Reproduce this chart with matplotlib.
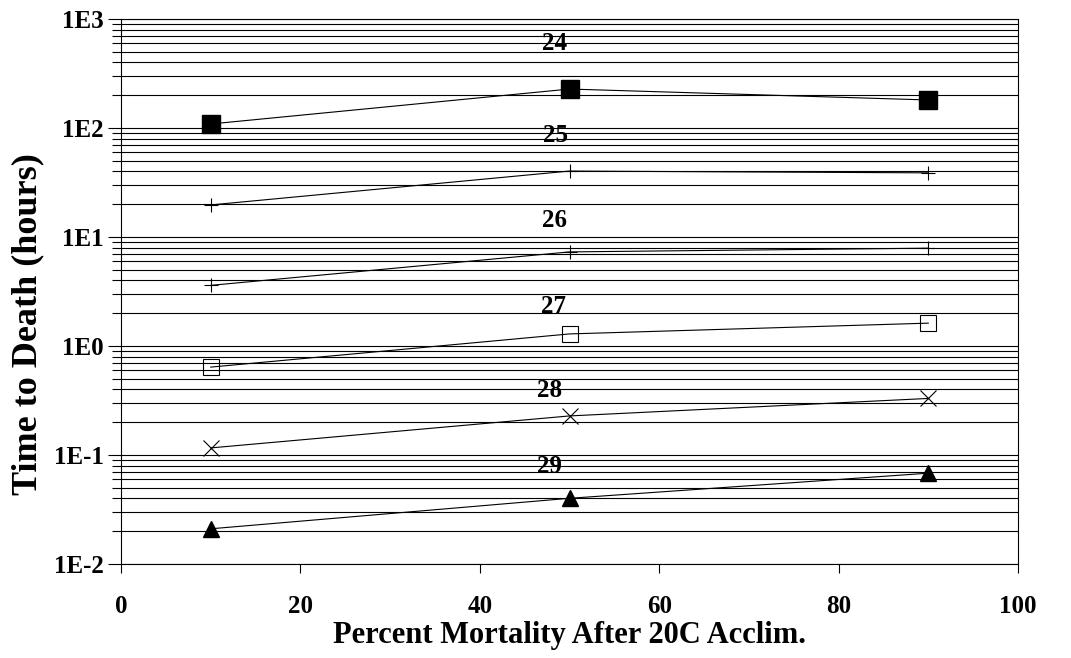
# Time to death vs percent mortality, 20C acclimation, log scale

import matplotlib.pyplot as plt
import matplotlib.ticker as mticker
import numpy as np

plt.rcParams['font.family'] = ['Liberation Serif', 'DejaVu Serif']
plt.rcParams['font.weight'] = 'bold'

mortality = [10, 50, 90]
temps = ['24', '25', '26', '27', '28', '29']

t24 = [109, 228, 181]
t25 = [19.7, 40.3, 38.8]
t26 = [3.6, 7.3, 7.9]
t27 = [0.64, 1.29, 1.62]
t28 = [0.116, 0.228, 0.33]
t29 = [0.021, 0.040, 0.068]

label_x = [46.9, 47.0, 46.9, 46.8, 46.4, 46.4]
label_y = [603, 86, 14.3, 2.28, 0.394, 0.0776]

series = [t24, t25, t26, t27, t28, t29]
styles = [
    dict(marker='s', markersize=13, color='black', markerfacecolor='black'),
    dict(marker='+', markersize=10, color='black', markeredgewidth=0.8),
    dict(marker='+', markersize=10, color='black', markeredgewidth=0.8),
    dict(marker='s', markersize=12, color='black', markerfacecolor='none', markeredgewidth=0.8),
    dict(marker='x', markersize=12, color='black', markeredgewidth=0.8),
    dict(marker='^', markersize=12, color='black', markerfacecolor='black'),
]

fig = plt.figure(figsize=(10.71, 6.58), dpi=100)
ax = fig.add_axes([0.113, 0.143, 0.8375, 0.828])

for vals, st in zip(series, styles):
    ax.plot(mortality, vals, linewidth=0.8, **st, zorder=3)

for t, lx, ly in zip(temps, label_x, label_y):
    ax.text(lx, ly, t, fontsize=18, fontweight='bold', ha='left', va='center')

ax.set_yscale('log')
ax.set_ylim(1e-2, 1e3)
ax.set_xlim(0, 100)
ax.set_xticks([0, 20, 40, 60, 80, 100])
ax.set_yticks([1e-2, 1e-1, 1e0, 1e1, 1e2, 1e3])
ax.set_yticklabels(['1E-2', '1E-1', '1E0', '1E1', '1E2', '1E3'])
ax.yaxis.set_minor_locator(mticker.LogLocator(base=10, subs=np.arange(2, 10)))
ax.yaxis.set_minor_formatter(mticker.NullFormatter())
ax.grid(True, which='both', axis='y', color='black', linewidth=0.8)

ax.tick_params(axis='x', which='major', direction='out', length=6.5, width=0.8, labelsize=18, pad=16)
ax.tick_params(axis='y', which='major', direction='out', length=9.5, width=0.8, labelsize=18, pad=3)
ax.tick_params(axis='y', which='minor', direction='out', length=6.5, width=0.8)
for lab in ax.get_xticklabels() + ax.get_yticklabels():
    lab.set_fontweight('bold')
for sp in ax.spines.values():
    sp.set_linewidth(0.8)

ax.set_xlabel('Percent Mortality After 20C Acclim.', fontsize=22, fontweight='bold', labelpad=2)
ax.set_ylabel('Time to Death (hours)', fontsize=26, fontweight='bold')
ax.yaxis.set_label_coords(-0.085, 0.44)

plt.savefig('out.png', dpi=100)
